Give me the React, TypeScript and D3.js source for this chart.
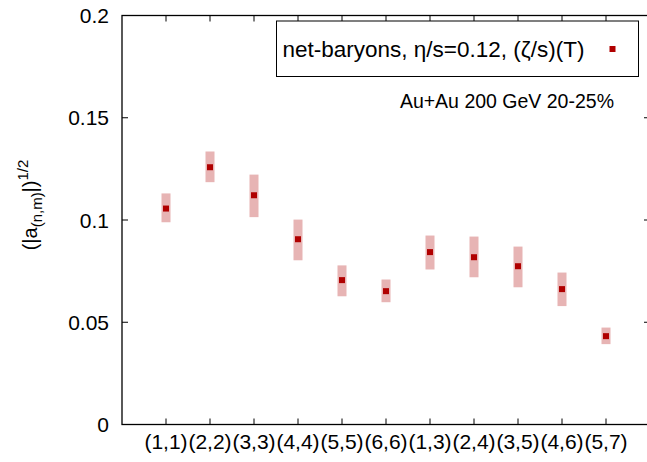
import React from "react";
import * as d3 from "d3";

const categories = ["(1,1)", "(2,2)", "(3,3)", "(4,4)", "(5,5)", "(6,6)", "(1,3)", "(2,4)", "(3,5)", "(4,6)", "(5,7)"];
const values = [0.1056, 0.1258, 0.1121, 0.0906, 0.0706, 0.0652, 0.0843, 0.0818, 0.0774, 0.0662, 0.0432];
const errLow = [0.0989, 0.1185, 0.1014, 0.0803, 0.0627, 0.0598, 0.0758, 0.0720, 0.0671, 0.0579, 0.0393];
const errHigh = [0.1130, 0.1335, 0.1222, 0.1002, 0.0778, 0.0709, 0.0924, 0.0919, 0.0870, 0.0743, 0.0474];
const yTicks = [0, 0.05, 0.1, 0.15, 0.2];
const yTickLabels = ["0", "0.05", "0.1", "0.15", "0.2"];
const legendLabel = "net-baryons, η/s=0.12, (ζ/s)(T)";
const annotation = "Au+Au 200 GeV 20-25%";

const W = 647;
const H = 462;
const FONT = "'Liberation Sans', Arial, sans-serif";
const DARK = "#b00000";
const LIGHT = "#e7b4b4";

export default function App() {
  const x = d3.scaleLinear().domain([0, 12]).range([122, 650]);
  const y = d3.scaleLinear().domain([0, 0.2]).range([424.5, 15.5]);
  const tickLen = 6;
  const xTickPos = categories.map((_, i) => i + 1);
  const boxW = 9;
  const mk = 6;

  return (
    <svg
      width={W}
      height={H}
      style={{ position: "absolute", left: 0, top: 0, background: "#fff" }}
      fontFamily={FONT}
    >
      <rect x={0} y={0} width={W} height={H} fill="#fff" />
      {values.map((v, i) => (
        <rect
          key={"e" + i}
          x={x(i + 1) - boxW / 2}
          y={y(errHigh[i])}
          width={boxW}
          height={y(errLow[i]) - y(errHigh[i])}
          fill={LIGHT}
        />
      ))}
      {values.map((v, i) => (
        <rect key={"m" + i} x={x(i + 1) - mk / 2} y={y(v) - mk / 2} width={mk} height={mk} fill={DARK} />
      ))}
      <rect x={x(0)} y={y(0.2)} width={x(12) - x(0)} height={y(0) - y(0.2)} fill="none" stroke="#000" strokeWidth={1.3} />
      {yTicks.map((t, i) => (
        <g key={"yt" + i}>
          <line x1={x(0)} x2={x(0) + tickLen} y1={y(t)} y2={y(t)} stroke="#000" strokeWidth={1} />
          <line x1={x(12)} x2={x(12) - tickLen} y1={y(t)} y2={y(t)} stroke="#000" strokeWidth={1} />
          <text x={109} y={y(t)} dy="0.36em" textAnchor="end" fontSize={21} fill="#000">
            {yTickLabels[i]}
          </text>
        </g>
      ))}
      {xTickPos.map((p, i) => (
        <g key={"xt" + i}>
          <line x1={x(p)} x2={x(p)} y1={y(0)} y2={y(0) - tickLen} stroke="#000" strokeWidth={1} />
          <line x1={x(p)} x2={x(p)} y1={y(0.2)} y2={y(0.2) + tickLen} stroke="#000" strokeWidth={1} />
          <text x={x(p)} y={449} textAnchor="middle" fontSize={21} fill="#000">
            {categories[i]}
          </text>
        </g>
      ))}
      <text transform="translate(37,205) rotate(-90)" textAnchor="middle" fontSize={20} fill="#000">
        <tspan>(|a</tspan>
        <tspan fontSize={15} dy={5}>(n,m)</tspan>
        <tspan dy={-5}>|)</tspan>
        <tspan fontSize={15} dy={-9}>1/2</tspan>
      </text>
      <rect x={276.5} y={21} width={362} height={55.5} fill="#fff" stroke="#000" strokeWidth={1} />
      <text x={282.5} y={56.5} fontSize={22.5} fill="#000">{legendLabel}</text>
      <rect x={612.5 - mk / 2} y={49 - mk / 2} width={mk} height={mk} fill={DARK} />
      <text x={614} y={108} textAnchor="end" fontSize={19.5} fill="#000">{annotation}</text>
    </svg>
  );
}
